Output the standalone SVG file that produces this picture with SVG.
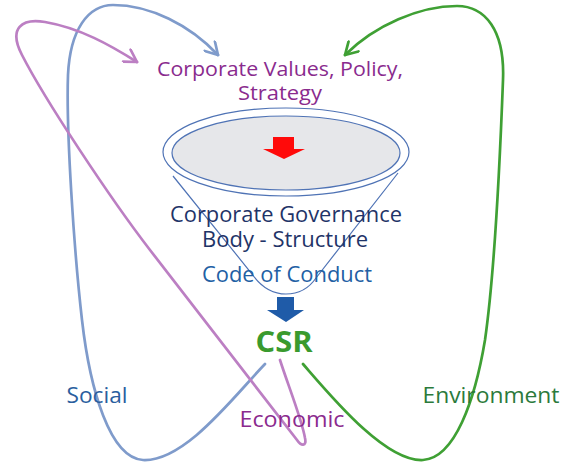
<svg xmlns="http://www.w3.org/2000/svg" width="579" height="464" viewBox="0 0 579 464">
  <style>
    text { font-family: "Open Sans", "Noto Sans", "DejaVu Sans", sans-serif; text-anchor: middle; }
    .flow { fill: none; stroke-width: 2.7; stroke-linecap: round; }
    .purple-txt { fill: #8A2B8E; font-size: 20.5px; }
    .navy-txt { fill: #1F3468; font-size: 21.5px; }
    .blue-txt { fill: #2260A4; font-size: 21.5px; }
    .rim { fill: none; stroke: #4F73B5; stroke-width: 1.2; }
  </style>
  <defs>
    <marker id="arrow-blue" markerUnits="userSpaceOnUse" viewBox="-14 -8 16 16" refX="0" refY="0" markerWidth="16" markerHeight="16" orient="auto">
      <path d="M-12,-7 L0,0 L-12,7" fill="none" stroke="#7F9BCB" stroke-width="2.7" stroke-linecap="round" stroke-linejoin="round"/>
    </marker>
    <marker id="arrow-purple" markerUnits="userSpaceOnUse" viewBox="-14 -8 16 16" refX="0" refY="0" markerWidth="16" markerHeight="16" orient="auto">
      <path d="M-12,-7 L0,0 L-12,7" fill="none" stroke="#BC7FC3" stroke-width="2.7" stroke-linecap="round" stroke-linejoin="round"/>
    </marker>
    <marker id="arrow-green" markerUnits="userSpaceOnUse" viewBox="-14 -8 16 16" refX="0" refY="0" markerWidth="16" markerHeight="16" orient="auto">
      <path d="M-12,-7 L0,0 L-12,7" fill="none" stroke="#3FA034" stroke-width="2.7" stroke-linecap="round" stroke-linejoin="round"/>
    </marker>
  </defs>

  <rect width="579" height="464" fill="#FFFFFF"/>

  <!-- funnel -->
  <g id="funnel">
    <path class="rim" d="M173,176 L252,274 Q266,294 286,294 Q305,294 316,278 L398,173"/>
    <ellipse cx="286" cy="152" rx="123" ry="44" fill="#FFFFFF" stroke="#4F73B5" stroke-width="1.2"/>
    <ellipse cx="286" cy="153" rx="114" ry="37" fill="#E6E7EA" stroke="#4F73B5" stroke-width="1.2"/>
    <path d="M273,137 L294,137 L294,149 L305,149 L284,159 L263,149 L273,149 Z" fill="#FF0A0A"/>
  </g>

  <!-- feedback loops -->
  <g id="connectors">
    <path id="social-loop" class="flow" stroke="#7F9BCB" marker-end="url(#arrow-blue)"
          d="M265,364 C235,395 185,462 143,460 C110,458 90,390 82,320 C74,250 66,130 68,75 C70,30 88,5 113,5 C150,5 190,25 218,55"/>
    <path id="economic-loop" class="flow" stroke="#BC7FC3" marker-end="url(#arrow-purple)"
          d="M280,360 C288,385 302,420 305,438 C307,447 301,446 297,440 L150,250 C110,198 45,100 22,55 C8,28 22,18 45,22 C80,28 110,45 137,62"/>
    <path id="environment-loop" class="flow" stroke="#3FA034" marker-end="url(#arrow-green)"
          d="M303,364 C330,395 385,462 423,460 C455,458 475,400 485,340 C495,270 500,160 503,80 C505,30 485,6 457,6 C420,6 375,25 345,55"/>
  </g>

  <g id="values">
    <text class="purple-txt" lengthAdjust="spacingAndGlyphs"><tspan x="280" y="76" textLength="246" lengthAdjust="spacingAndGlyphs">Corporate Values, Policy,</tspan><tspan x="280" y="100" textLength="84" lengthAdjust="spacingAndGlyphs">Strategy</tspan></text>
  </g>

  <g id="governance">
    <text class="navy-txt"><tspan x="286" y="222" textLength="232" lengthAdjust="spacingAndGlyphs">Corporate Governance</tspan><tspan x="285" y="247" textLength="166" lengthAdjust="spacingAndGlyphs">Body - Structure</tspan></text>
  </g>

  <g id="code">
    <text class="blue-txt" x="287" y="282" textLength="170" lengthAdjust="spacingAndGlyphs">Code of Conduct</text>
  </g>

  <g id="to-csr">
    <path d="M277,297 L294,297 L294,310 L304,310 L286,322 L267,310 L277,310 Z" fill="#1F5BA8"/>
  </g>

  <g id="csr">
    <text x="284" y="352" font-size="28" font-weight="bold" fill="#3A9A2E" textLength="57" lengthAdjust="spacingAndGlyphs">CSR</text>
  </g>

  <g id="social">
    <text x="97" y="403" font-size="21.5" fill="#2A5E9E" textLength="61" lengthAdjust="spacingAndGlyphs">Social</text>
  </g>

  <g id="economic">
    <text x="292" y="427" font-size="21.5" fill="#8B2A8E" textLength="105" lengthAdjust="spacingAndGlyphs">Economic</text>
  </g>

  <g id="environment">
    <text x="491" y="403" font-size="21.5" fill="#2B7A3B" textLength="137" lengthAdjust="spacingAndGlyphs">Environment</text>
  </g>
</svg>
